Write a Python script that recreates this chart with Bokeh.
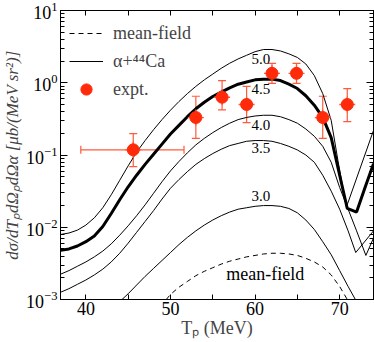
import numpy as np
from bokeh.plotting import figure
from bokeh.models import (ColumnDataSource, LogAxis, LinearAxis, FixedTicker, LogTicker,
                          Range1d, Legend, LegendItem, Whisker, TeeHead)
from bokeh.embed import file_html
from bokeh.resources import INLINE
from bokeh.core.properties import value

# ---------------- data (log10 of cross section) -------------
tp_grid = [37, 38, 39, 40, 41, 42, 43, 44, 45, 46, 47, 48, 49, 50, 51, 52, 53, 54, 55,
           56, 57, 58, 59, 60, 61, 62, 63, 64, 65, 66, 67, 68, 69]

log_v45 = [-2.32, -2.30, -2.26, -2.20, -2.12, -1.99, -1.81, -1.62, -1.44, -1.28, -1.13,
           -0.99, -0.85, -0.71, -0.59, -0.47, -0.36, -0.27, -0.19, -0.13, -0.07, -0.02,
           0.01, 0.04, 0.05, 0.05, 0.03, -0.02, -0.08, -0.18, -0.31, -0.48, -0.76]
tp_tail45 = [70.0, 70.9, 72.0, 73.0, 74.0]
log_tail45 = [-1.28, -1.74, -1.79, -1.45, -1.12]

log_v50 = [-2.10, -2.08, -2.04, -1.97, -1.87, -1.73, -1.55, -1.35, -1.15, -0.96, -0.80,
           -0.65, -0.51, -0.38, -0.26, -0.15, -0.05, 0.04, 0.12, 0.20, 0.27, 0.33,
           0.38, 0.43, 0.46, 0.46, 0.44, 0.40, 0.35, 0.26, 0.10, -0.15, -0.52]
tp_tail50 = [69.8, 70.8, 74.0]
log_tail50 = [-1.08, -1.72, -0.66]

log_v40 = [-2.65, -2.60, -2.54, -2.48, -2.41, -2.33, -2.23, -2.11, -1.98, -1.84, -1.69,
           -1.53, -1.37, -1.22, -1.09, -0.97, -0.86, -0.77, -0.69, -0.62, -0.56, -0.51,
           -0.48, -0.46, -0.45, -0.45, -0.47, -0.51, -0.56, -0.64, -0.74, -0.88, -1.10]
tp_tail40 = [70.0, 71.0, 72.0, 73.1, 74.0]
log_tail40 = [-1.45, -1.75, -2.05, -2.39, -2.15]

log_v35 = [-2.90, -2.85, -2.79, -2.73, -2.66, -2.58, -2.48, -2.36, -2.22, -2.07, -1.92,
           -1.77, -1.61, -1.46, -1.34, -1.23, -1.13, -1.05, -0.98, -0.92, -0.87, -0.84,
           -0.81, -0.80, -0.80, -0.81, -0.84, -0.88, -0.93, -1.00, -1.10, -1.28, -1.50]
tp_tail35 = [70.0, 71.0, 71.9, 74.0]
log_tail35 = [-1.75, -2.05, -2.35, -2.05]

tp_30 = [44, 45, 46, 47, 48, 49, 50, 51, 52, 53, 54, 55, 56, 57, 58, 59, 60, 61, 62,
         63, 64, 65, 66, 67, 68, 69, 70, 71, 72]
log_v30 = [-3.03, -2.92, -2.80, -2.68, -2.57, -2.46, -2.35, -2.24, -2.14, -2.05, -1.97,
           -1.90, -1.84, -1.79, -1.75, -1.73, -1.71, -1.70, -1.70, -1.71, -1.74, -1.80,
           -1.90, -2.03, -2.20, -2.38, -2.60, -2.82, -3.03]

tp_mf = [49.5, 50, 51, 52, 53, 54, 55, 56, 57, 58, 59, 60, 61, 62, 63, 64, 65, 66, 67,
         68, 69, 70, 71]
log_mf = [-3.00, -2.93, -2.83, -2.75, -2.67, -2.61, -2.56, -2.51, -2.47, -2.44, -2.41,
          -2.39, -2.37, -2.36, -2.36, -2.37, -2.39, -2.43, -2.48, -2.55, -2.66, -2.82, -3.02]

curve_names = ["5.0", "4.5", "4.0", "3.5", "3.0"]

exp_tp = [45.6, 53.0, 56.1, 59.0, 62.0, 64.9, 68.0, 70.9]
exp_sig = [0.118, 0.33, 0.63, 0.50, 1.35, 1.35, 0.33, 0.50]
exp_sig_lo = [0.069, 0.17, 0.42, 0.28, 0.98, 0.98, 0.17, 0.29]
exp_sig_hi = [0.197, 0.65, 1.07, 0.89, 1.86, 1.86, 0.65, 0.83]
exp_tp_lo = [39.4, 53.0, 56.1, 59.0, 62.0, 64.9, 68.0, 70.9]
exp_tp_hi = [51.6, 53.0, 56.1, 59.0, 62.0, 64.9, 68.0, 70.9]

x_ticks = [40, 50, 60, 70]
x_minor = [35, 45, 55, 65, 75]

# ---------------- figure -------------
SERIF = "Liberation Serif"
RED = "#ff2a0a"
ERR = "#ff5a3c"

p = figure(width=374, height=342, x_range=Range1d(37, 74), y_range=Range1d(1e-3, 10),
           y_axis_type="log", output_backend="svg", toolbar_location=None,
           min_border_left=55, min_border_right=1, min_border_top=10, min_border_bottom=43)
p.grid.visible = False
p.outline_line_color = "black"
p.outline_line_width = 1
p.background_fill_color = "white"
p.border_fill_color = "white"

def style_axis(ax, labels=True):
    ax.axis_line_color = "black"
    ax.major_tick_out = 0
    ax.minor_tick_out = 0
    ax.major_tick_line_color = "black"
    ax.minor_tick_line_color = "black"
    ax.major_label_text_font = SERIF
    ax.major_label_text_color = "black"
    ax.major_label_standoff = 2
    if not labels:
        ax.major_label_text_font_size = "1px"
        ax.major_label_text_color = None
        ax.major_label_standoff = 0

xax = p.xaxis[0]
xax.ticker = FixedTicker(ticks=x_ticks, minor_ticks=x_minor)
style_axis(xax)
xax.major_tick_in = 5
xax.minor_tick_in = 5
xax.major_label_text_font_size = "18px"
xax.major_label_standoff = 2
xax.axis_label = "Tₚ (MeV)"
xax.axis_label_text_font = SERIF
xax.axis_label_text_font_size = "18px"
xax.axis_label_text_font_style = "normal"
xax.axis_label_standoff = 0

yax = p.yaxis[0]
yax.ticker = LogTicker(num_minor_ticks=10)
style_axis(yax)
yax.major_tick_in = 7
yax.minor_tick_in = 4
yax.major_label_text_font_size = "18px"
yax.major_label_standoff = 3
yax.axis_label = "dσ/dTₚdΩₚdΩα [μb/(MeV sr²)]"
yax.axis_label_text_font = SERIF
yax.axis_label_text_font_size = "17px"
yax.axis_label_text_font_style = "italic"
yax.axis_label_standoff = 1

top = LinearAxis(ticker=FixedTicker(ticks=x_ticks, minor_ticks=x_minor))
style_axis(top, labels=False)
top.major_tick_in = 5
top.minor_tick_in = 5
p.add_layout(top, "above")

right = LogAxis(ticker=LogTicker(num_minor_ticks=10))
style_axis(right, labels=False)
right.major_tick_in = 7
right.minor_tick_in = 4
p.add_layout(right, "right")

# ---------------- curves -------------
def lin(vals):
    return [10.0 ** v for v in vals]

r50 = p.line(tp_grid + tp_tail50, lin(log_v50 + log_tail50), line_color="black", line_width=1)
r45 = p.line(tp_grid + tp_tail45, lin(log_v45 + log_tail45), line_color="black", line_width=3)
r40 = p.line(tp_grid + tp_tail40, lin(log_v40 + log_tail40), line_color="black", line_width=1)
r35 = p.line(tp_grid + tp_tail35, lin(log_v35 + log_tail35), line_color="black", line_width=1)
r30 = p.line(tp_30, lin(log_v30), line_color="black", line_width=1)
rmf = p.line(tp_mf, lin(log_mf), line_color="black", line_width=1, line_dash="5 4")

# curve labels placed relative to each curve's value near its maximum
lab_x = 60.7
curve_x = [tp_grid + tp_tail50, tp_grid + tp_tail45, tp_grid + tp_tail40,
           tp_grid + tp_tail35, tp_30]
curve_y = [log_v50 + log_tail50, log_v45 + log_tail45, log_v40 + log_tail40,
           log_v35 + log_tail35, log_v30]
lab_off = [9, 10, 10, 7, -10]
lab_y = [10 ** np.interp(lab_x, cx, cy) for cx, cy in zip(curve_x, curve_y)]
p.text(x=[lab_x] * 5, y=lab_y, text=curve_names, y_offset=lab_off,
       text_align="center", text_baseline="middle",
       text_font=value(SERIF), text_font_size="15px", text_color="black")
mf_x = 61.2
p.text(x=[mf_x], y=[10 ** np.interp(mf_x, tp_mf, log_mf)], text=["mean-field"], y_offset=[20],
       text_align="center", text_baseline="middle",
       text_font=value(SERIF), text_font_size="18px", text_color="black")

# ---------------- experiment -------------
src = ColumnDataSource(dict(x=exp_tp, y=exp_sig, ylo=exp_sig_lo, yhi=exp_sig_hi,
                            xlo=exp_tp_lo, xhi=exp_tp_hi))
wy = Whisker(source=src, base="x", lower="ylo", upper="yhi", dimension="height",
             line_color=ERR, line_width=1.2,
             lower_head=TeeHead(size=8, line_color=ERR, line_width=1.2),
             upper_head=TeeHead(size=8, line_color=ERR, line_width=1.2))
p.add_layout(wy)
xe = [i for i in range(len(exp_tp)) if exp_tp_hi[i] > exp_tp_lo[i]]
srcx = ColumnDataSource(dict(y=[exp_sig[i] for i in xe], xlo=[exp_tp_lo[i] for i in xe],
                             xhi=[exp_tp_hi[i] for i in xe]))
wx = Whisker(source=srcx, base="y", lower="xlo", upper="xhi", dimension="width",
             line_color=ERR, line_width=1.2,
             lower_head=TeeHead(size=8, line_color=ERR, line_width=1.2),
             upper_head=TeeHead(size=8, line_color=ERR, line_width=1.2))
p.add_layout(wx)
rcross = p.scatter(exp_tp, exp_sig, size=16, marker="cross", line_color=ERR, line_width=1.3)
rexp = p.scatter(exp_tp, exp_sig, size=12, marker="circle", fill_color=RED, line_color=RED)

# ---------------- legend -------------
leg = Legend(items=[LegendItem(label="mean-field", renderers=[rmf]),
                    LegendItem(label="α+⁴⁴Ca", renderers=[r50]),
                    LegendItem(label="expt.", renderers=[rcross, rexp])],
             location="top_left", margin=0, padding=9, spacing=0,
             glyph_width=34, glyph_height=28, label_height=28, label_standoff=10,
             label_text_font=SERIF, label_text_font_size="18px",
             border_line_alpha=0, background_fill_alpha=0)
p.add_layout(leg)

open("out.html", "w").write(file_html(p, INLINE))
